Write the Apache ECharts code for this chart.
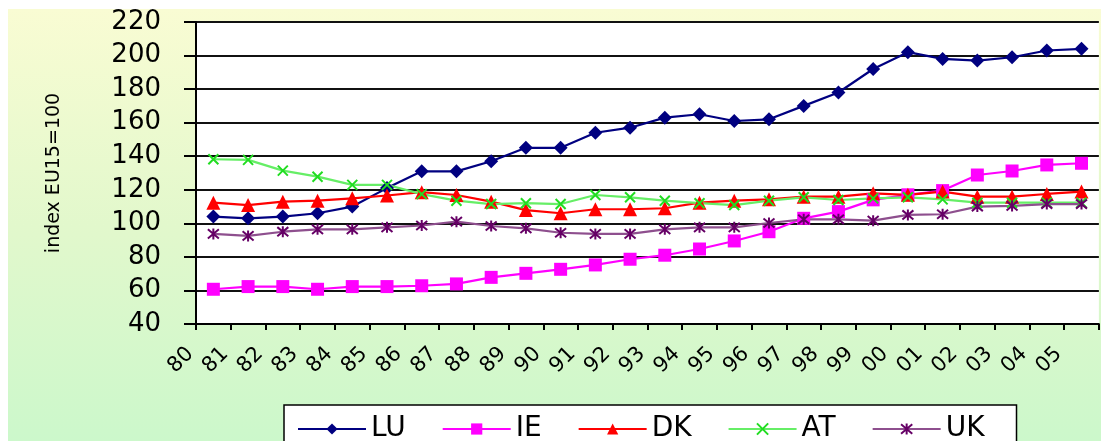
<!DOCTYPE html>
<html><head><meta charset="utf-8">
<script src="https://cdn.jsdelivr.net/npm/echarts@6/dist/echarts.min.js"></script>
<style>html,body{margin:0;padding:0;background:#fff}#c{width:1101px;height:441px}</style>
</head><body><div id="c"></div>
<script>
const years = ['80','81','82','83','84','85','86','87','88','89','90','91','92','93','94','95','96','97','98','99','00','01','02','03','04','05'];
const LU = [104,103,104,106,110,121,131,131,137,145,145,154,157,163,165,161,162,170,178,192,202,198,197,199,203,204];
const IE = [60.7,62.3,62.3,60.7,62.3,62.3,62.8,63.9,67.8,70.2,72.6,75.2,78.6,81,84.7,89.5,95,103,107,114,117,119.5,128.8,131.2,134.8,135.8];
const DK = [112.3,110.9,112.9,113.5,114.9,116.6,118.6,116.9,112.9,107.9,106,108.4,108.4,109,112.3,113.5,114.3,115.9,115.9,117.9,117,118.9,115.9,115.9,117.5,118.9];
const AT = [138.2,137.8,131.4,127.8,122.9,122.9,117.4,113.5,111.5,112,111.5,116.9,115.5,113.5,112,110.9,113.5,115.5,113.9,114.9,115.5,114.3,112.3,112.3,112.3,112.3];
const UK = [93.7,92.5,95,96.4,96.4,97.6,98.7,101,98.4,97,94.4,93.7,93.7,96.4,97.6,97.6,100.2,102.4,102.4,101.6,105,105.4,110,110.4,111.5,111.5];
const yTicks = {min: 40, max: 220, interval: 20};
const yName = 'index EU15=100';
const seriesNames = ['LU', 'IE', 'DK', 'AT', 'UK'];

const chart = echarts.init(document.getElementById('c'), null, {renderer: 'canvas'});
const font = 'DejaVu Sans';
function mk(name, data, symbol, size, color, lineColor, extra) {
  return Object.assign({
    name: name, type: 'line', data: data, xAxisIndex: 0,
    symbol: symbol, symbolSize: size,
    lineStyle: {color: lineColor, width: 2.2},
    itemStyle: {color: color},
    emphasis: {disabled: true}, animation: false
  }, extra || {});
}
const xPath = 'path://M0,0L10,10M10,0L0,10';
const starPath = 'path://M0,0L10,10M10,0L0,10M5,-1L5,11';
chart.setOption({
  animation: false,
  graphic: [{
    type: 'rect', z: -10, silent: true,
    shape: {x: 8, y: 9, width: 1093, height: 432},
    style: {fill: new echarts.graphic.LinearGradient(0, 0, 0, 1, [
      {offset: 0, color: '#F9FCD3'}, {offset: 0.5, color: '#E2F8CC'}, {offset: 1, color: '#CCF8CB'}])}
  }],
  grid: {left: 196, top: 22, right: -10, bottom: 117, show: true, backgroundColor: '#fff', borderWidth: 0},
  legend: {
    left: 284, top: 405, padding: [10, 32, 30, 13], itemGap: 36,
    itemWidth: 68, itemHeight: 14,
    borderColor: '#000', borderWidth: 1.5, backgroundColor: '#fff',
    textStyle: {fontFamily: font, fontSize: 28, color: '#000'},
    data: seriesNames
  },
  xAxis: [{
    type: 'category', data: years, boundaryGap: true,
    axisLine: {show: true, onZero: false, lineStyle: {color: '#000', width: 2}},
    axisTick: {show: true, interval: 0, length: 6, lineStyle: {color: '#000', width: 2}},
    axisLabel: {show: false},
    splitLine: {show: false}
  }, {
    type: 'category', data: years.concat(['']), boundaryGap: false, position: 'bottom',
    axisLine: {show: false}, axisTick: {show: false}, splitLine: {show: false},
    axisLabel: {interval: 0, rotate: 45, margin: 21, padding: [0, 8, 0, 0], fontFamily: font, fontSize: 21, color: '#000'}
  }],
  yAxis: {
    type: 'value', min: yTicks.min, max: yTicks.max, interval: yTicks.interval,
    name: yName, nameLocation: 'middle', nameRotate: 90, nameGap: 132,
    nameTextStyle: {fontFamily: font, fontSize: 19, color: '#000'},
    axisLine: {show: true, lineStyle: {color: '#000', width: 2}},
    axisTick: {show: true, length: 12, lineStyle: {color: '#000', width: 2}},
    axisLabel: {margin: 35, fontFamily: font, fontSize: 26, color: '#000'},
    splitLine: {show: true, lineStyle: {color: '#111', width: 2}}
  },
  series: [
    mk('LU', LU, 'diamond', 14, '#000080', '#000080'),
    mk('IE', IE, 'rect', 13, '#FF00FF', '#FF00FF'),
    mk('DK', DK, 'triangle', 14, '#FF0000', '#FF0000'),
    mk('AT', AT, xPath, 10, '#22DD22', '#66EE66', {itemStyle: {color: '#22DD22', borderColor: '#22DD22', borderWidth: 2}}),
    mk('UK', UK, starPath, 11, '#660066', '#8E4F8E', {itemStyle: {color: '#660066', borderColor: '#660066', borderWidth: 2}})
  ]
});
</script></body></html>
